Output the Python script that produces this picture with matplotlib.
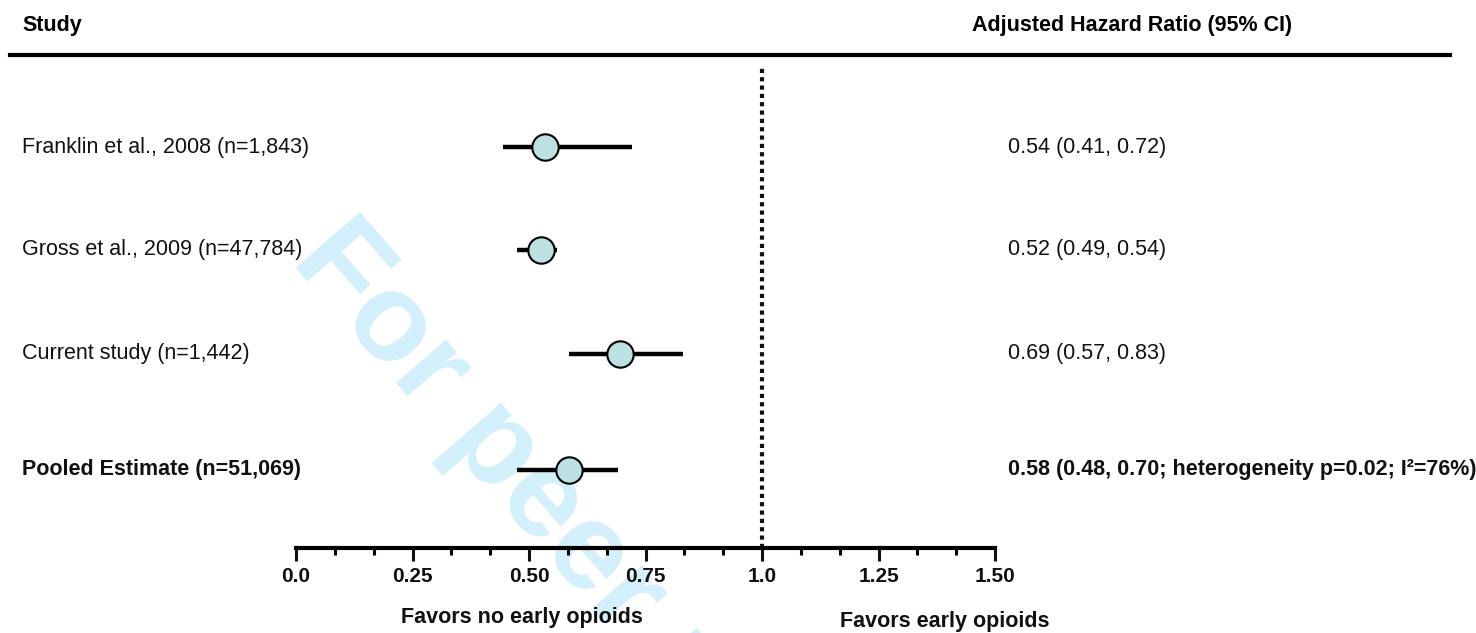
import matplotlib
matplotlib.use("Agg")
import matplotlib.pyplot as plt

plt.rcParams['font.family'] = ['Liberation Sans', 'DejaVu Sans']

studies = ["Franklin et al., 2008 (n=1,843)",
           "Gross et al., 2009 (n=47,784)",
           "Current study (n=1,442)",
           "Pooled Estimate (n=51,069)"]
hr = [0.535, 0.525, 0.695, 0.585]
ci_low = [0.445, 0.475, 0.585, 0.475]
ci_high = [0.72, 0.56, 0.83, 0.69]
hr_text = ["0.54 (0.41, 0.72)",
           "0.52 (0.49, 0.54)",
           "0.69 (0.57, 0.83)",
           "0.58 (0.48, 0.70; heterogeneity p=0.02; I\u00b2=76%)"]
tick_vals = [0.0, 0.25, 0.5, 0.75, 1.0, 1.25, 1.5]
tick_text = ["0.0", "0.25", "0.50", "0.75", "1.0", "1.25", "1.50"]

W, H = 1476, 633
fig = plt.figure(figsize=(W / 100, H / 100), dpi=100)

# row layout (pixel rows from top)
row_px = [147, 250, 354, 470]
fs = 15.5

def fy(py):
    return 1 - py / H

# watermark sits under everything
fig.text(290 / W, fy(261), "For peer review only", fontsize=90, fontweight='bold',
         color='#d4effc', rotation=-49, rotation_mode='anchor', ha='left',
         va='baseline', zorder=0)

# forest axes: x 0 -> px 296, 1.5 -> px 995; top px 68, bottom px 548
ax = fig.add_axes([296 / W, fy(548), 699 / W, 480 / H])
ax.set_zorder(5)
ax.patch.set_alpha(0)
ax.set_xlim(0, 1.5)
ax.set_ylim(548, 68)
for s in ['top', 'right', 'left']:
    ax.spines[s].set_visible(False)
ax.spines['bottom'].set_linewidth(3)
ax.set_yticks([])
ax.set_xticks(tick_vals)
ax.set_xticklabels(tick_text, fontweight='bold', fontsize=15)
ax.set_xticks([i / 12 for i in range(19)], minor=True)
ax.tick_params(axis='x', which='major', length=9, width=2.2, pad=5, colors='#111111')
ax.tick_params(axis='x', which='minor', length=5, width=2.2)
ax.axvline(1.0, color='#111111', lw=3, ls=(0, (1, 1)), zorder=1)

for i in range(len(studies)):
    ax.plot([ci_low[i], ci_high[i]], [row_px[i], row_px[i]], color='black', lw=3.2,
            solid_capstyle='butt', zorder=2, clip_on=False)
    ax.plot(hr[i], row_px[i], 'o', ms=19, mfc='#bde0e2', mec='black', mew=1.5,
            zorder=3, clip_on=False)

# header
fig.text(22 / W, fy(25), "Study", fontweight='bold', fontsize=fs, va='center', zorder=6)
fig.text(972 / W, fy(25), "Adjusted Hazard Ratio (95% CI)", fontweight='bold',
         fontsize=fs, va='center', zorder=6)
fig.add_artist(plt.Line2D([10 / W, 1450 / W], [fy(55), fy(55)], color='black', lw=3))

for i in range(len(studies)):
    w = 'bold' if i == 3 else 'normal'
    fig.text(22 / W, fy(row_px[i]), studies[i], fontsize=fs, va='center',
             fontweight=w, color='#111111', zorder=6)
    fig.text(1008 / W, fy(row_px[i]), hr_text[i], fontsize=fs, va='center',
             fontweight=w, color='#111111', zorder=6)

fig.text(522 / W, fy(618), "Favors no early opioids", fontweight='bold', fontsize=fs,
         ha='center', va='center', color='#111111', zorder=6)
fig.text(945 / W, fy(622), "Favors early opioids", fontweight='bold', fontsize=fs,
         ha='center', va='center', color='#111111', zorder=6)

fig.savefig("out.png", dpi=100)
